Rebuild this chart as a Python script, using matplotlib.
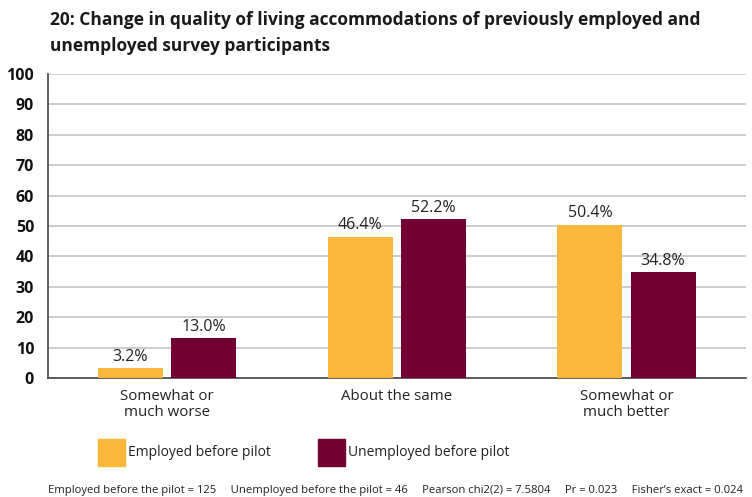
import matplotlib.pyplot as plt
import numpy as np
from matplotlib.patches import Rectangle

plt.rcParams['font.family'] = ['Open Sans', 'DejaVu Sans']

# Datos
categories = ["Somewhat or\nmuch worse", "About the same", "Somewhat or\nmuch better"]
employed = [3.2, 46.4, 50.4]
unemployed = [13.0, 52.2, 34.8]
series_names = ["Employed before pilot", "Unemployed before pilot"]
yticks = [0, 10, 20, 30, 40, 50, 60, 70, 80, 90, 100]
footnote = ("Employed before the pilot = 125     Unemployed before the pilot = 46     "
            "Pearson chi2(2) = 7.5804     Pr = 0.023     Fisher\u2019s exact = 0.024")

c_emp = "#F9B73B"
c_unemp = "#730033"

fig = plt.figure(figsize=(7.52, 4.97), dpi=100)
ax = fig.add_axes([48 / 752, 1 - 378 / 497, 698 / 752, 304 / 497])

x = np.arange(len(categories))
w = 0.283
off = 0.159
b1 = ax.bar(x - off, employed, w, color=c_emp, zorder=3)
b2 = ax.bar(x + off, unemployed, w, color=c_unemp, zorder=3)

# Etiquetas de valor
for bars, vals in ((b1, employed), (b2, unemployed)):
    for r, v in zip(bars, vals):
        ax.text(r.get_x() + r.get_width() / 2, v + 1.2, f"{v:.1f}%",
                ha="center", va="bottom", fontsize=11.5, color="#222222")

ax.set_xlim(-0.517, 2.52)
ax.set_ylim(0, 100)
ax.set_yticks(yticks)
ax.tick_params(axis="y", length=0, labelsize=11.5, pad=10, labelcolor="#111111")
ax.set_yticklabels([str(t) for t in yticks], fontweight="bold")
ax.set_xticks(x)
ax.set_xticklabels(categories, fontsize=10.8, color="#222222", linespacing=1.05)
ax.tick_params(axis="x", length=0, pad=8)
ax.grid(axis="y", color="#c8c8c8", linewidth=1.3, zorder=0)
for s in ("top", "right"):
    ax.spines[s].set_visible(False)
ax.spines["left"].set_color("#444444")
ax.spines["bottom"].set_color("#444444")
ax.spines["left"].set_linewidth(1.2)
ax.spines["bottom"].set_linewidth(1.2)

fig.text(50 / 752, 1 - 20 / 497, "20: Change in quality of living accommodations of previously employed and",
         fontsize=12.5, fontweight="bold", va="center", color="#1a1a1a")
fig.text(50 / 752, 1 - 46 / 497, "unemployed survey participants",
         fontsize=12.5, fontweight="bold", va="center", color="#1a1a1a")

# Leyenda manual
for px, col, name in ((98, c_emp, series_names[0]), (318, c_unemp, series_names[1])):
    fig.patches.append(Rectangle((px / 752, 1 - 466 / 497), 27 / 752, 27 / 497,
                                 transform=fig.transFigure, color=col))
    fig.text((px + 30) / 752, 1 - 452 / 497, name, fontsize=10, va="center", color="#222222")

fig.text(48 / 752, 1 - 490 / 497, footnote, fontsize=8.1, va="center", color="#222222")

plt.savefig("out.png", dpi=100)
